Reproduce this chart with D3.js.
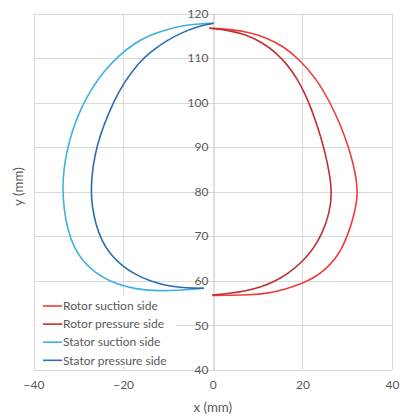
<!DOCTYPE html>
<html>
<head>
<meta charset="utf-8">
<script src="https://cdn.jsdelivr.net/npm/d3@7"></script>
<style>
  html, body { margin: 0; padding: 0; background: #fff; }
  svg text { font-family: Lato, "Liberation Sans", sans-serif; fill: #595959; }
</style>
</head>
<body>
<svg id="chart" width="401" height="416"></svg>
<script>
// Blade profiles (mm)
const rotorSuctionX  = [-0.8, 4.0, 8.2, 12.1, 15.8, 19.0, 23.1, 26.2, 28.5, 30.3, 31.4, 32.1, 32.3, 32.0, 31.2, 30.0, 28.8, 27.2, 25.1, 22.5, 20.0, 16.0, 12.1, 8.0, 4.0, -0.1];
const rotorSuctionY  = [116.7, 116.45, 115.75, 114.5, 112.6, 110.0, 105.4, 100.0, 95.0, 90.0, 86.0, 82.5, 79.5, 77.0, 73.5, 70.0, 67.2, 64.7, 62.5, 60.6, 59.4, 58.0, 57.1, 56.8, 56.72, 56.7];

const rotorPressureX = [-0.8, 3.5, 7.5, 11.0, 14.0, 16.6, 18.8, 20.6, 22.1, 23.5, 24.7, 25.6, 26.2, 26.45, 26.4, 26.0, 25.3, 24.3, 23.0, 21.5, 19.8, 17.0, 14.0, 10.75, 7.35, 3.9, -0.1];
const rotorPressureY = [116.7, 116.25, 115.2, 113.5, 111.3, 108.6, 105.4, 102.0, 98.3, 94.3, 90.2, 86.4, 83.0, 80.5, 78.0, 75.5, 73.0, 70.5, 68.1, 66.0, 64.1, 61.7, 59.9, 58.55, 57.7, 57.15, 56.75];

const statorSuctionX = [0.2, -3.0, -6.5, -10.0, -13.9, -17.5, -21.05, -24.3, -27.2, -29.5, -31.3, -32.6, -33.3, -33.5, -33.2, -32.4, -31.0, -29.0, -26.3, -23.0, -19.3, -15.5, -11.5, -7.5, -4.5, -2.0];
const statorSuctionY = [117.8, 117.7, 117.3, 116.5, 115.2, 113.3, 110.5, 107.0, 102.9, 98.5, 93.9, 89.0, 84.5, 80.5, 76.0, 71.5, 67.5, 64.4, 61.8, 59.9, 58.6, 57.9, 57.7, 57.85, 58.05, 58.3];

const statorPressureX = [0.2, -3.0, -6.5, -10.0, -13.9, -16.5, -20.0, -22.2, -24.3, -25.8, -26.8, -27.2, -26.9, -26.1, -24.8, -22.8, -20.2, -17.3, -14.1, -10.7, -7.2, -4.3, -2.0];
const statorPressureY = [117.8, 117.2, 115.9, 114.1, 111.4, 109.0, 104.2, 100.0, 95.0, 90.5, 85.5, 80.4, 76.5, 72.6, 69.0, 65.8, 63.3, 61.4, 59.95, 58.95, 58.45, 58.3, 58.28];

const seriesNames  = ["Rotor suction side", "Rotor pressure side", "Stator suction side", "Stator pressure side"];
const seriesColors = ["#ef3b3b", "#be3036", "#3fb0e3", "#2a6db3"];

const xTicks = [-40, -20, 0, 20, 40];
const yTicks = [40, 50, 60, 70, 80, 90, 100, 110, 120];

const zip = (xs, ys) => xs.map((v, i) => [v, ys[i]]);
const series = [
  zip(rotorSuctionX, rotorSuctionY),
  zip(rotorPressureX, rotorPressureY),
  zip(statorSuctionX, statorSuctionY),
  zip(statorPressureX, statorPressureY)
];

const svg = d3.select("#chart");
const plotLeft = 33.5, plotRight = 392, plotTop = 13.5, plotBottom = 369.7;

const x = d3.scaleLinear().domain([-40, 40]).range([plotLeft, plotRight]);
const y = d3.scaleLinear().domain([40, 120]).range([plotBottom, plotTop]);

// gridlines
const grid = svg.append("g").attr("stroke", "#d9d9d9").attr("stroke-width", 1);
grid.selectAll("line.h").data(yTicks).join("line")
  .attr("x1", plotLeft).attr("x2", plotRight)
  .attr("y1", d => Math.round(y(d)) + 0.5).attr("y2", d => Math.round(y(d)) + 0.5);
grid.selectAll("line.v").data(xTicks.filter(d => d !== 0)).join("line")
  .attr("y1", plotTop).attr("y2", plotBottom)
  .attr("x1", d => Math.round(x(d)) + 0.5).attr("x2", d => Math.round(x(d)) + 0.5);

// vertical axis sits at x = 0
const yAxis = d3.axisLeft(y).tickValues(yTicks).tickSize(0).tickPadding(5);
const yg = svg.append("g").attr("transform", `translate(${Math.round(x(0)) + 0.5},0)`).call(yAxis);
yg.select(".domain").attr("stroke", "#bfbfbf");
yg.selectAll("text").attr("font-size", 12).style("fill", "#595959")
  .attr("font-family", "Lato, 'Liberation Sans', sans-serif");

// horizontal axis labels along the bottom edge
const xAxis = d3.axisBottom(x).tickValues(xTicks).tickSize(0).tickPadding(11);
const xg = svg.append("g").attr("transform", `translate(0,${plotBottom})`).call(xAxis);
xg.select(".domain").remove();
xg.selectAll("text").attr("font-size", 12).style("fill", "#595959")
  .attr("font-family", "Lato, 'Liberation Sans', sans-serif");

// profiles, smoothed through a B-spline
const line = d3.line().x(d => x(d[0])).y(d => y(d[1])).curve(d3.curveBasis);
svg.append("g").selectAll("path").data(series).join("path")
  .attr("d", line)
  .attr("fill", "none")
  .attr("stroke", (d, i) => seriesColors[i])
  .attr("stroke-width", 1.6)
  .attr("stroke-linejoin", "round");

// axis titles
svg.append("text").attr("x", x(0)).attr("y", 412).attr("text-anchor", "middle")
  .attr("font-size", 13.3).text("x (mm)");
svg.append("text").attr("transform", `translate(23,${(plotTop + plotBottom) / 2 - 5}) rotate(-90)`)
  .attr("text-anchor", "middle").attr("font-size", 13.3).text("y (mm)");

// legend
const lg = svg.append("g");
lg.append("rect").attr("x", 36).attr("y", 296).attr("width", 140).attr("height", 71).attr("fill", "#fff");
const rows = lg.selectAll("g.row").data(seriesNames).join("g")
  .attr("transform", (d, i) => `translate(0,${306 + i * 18.1})`);
rows.append("line").attr("x1", 43).attr("x2", 62).attr("y1", 0).attr("y2", 0)
  .attr("stroke", (d, i) => seriesColors[i]).attr("stroke-width", 1.6);
rows.append("text").attr("x", 63).attr("y", 0).attr("dy", "0.35em")
  .attr("font-size", 12).text(d => d);
</script>
</body>
</html>
